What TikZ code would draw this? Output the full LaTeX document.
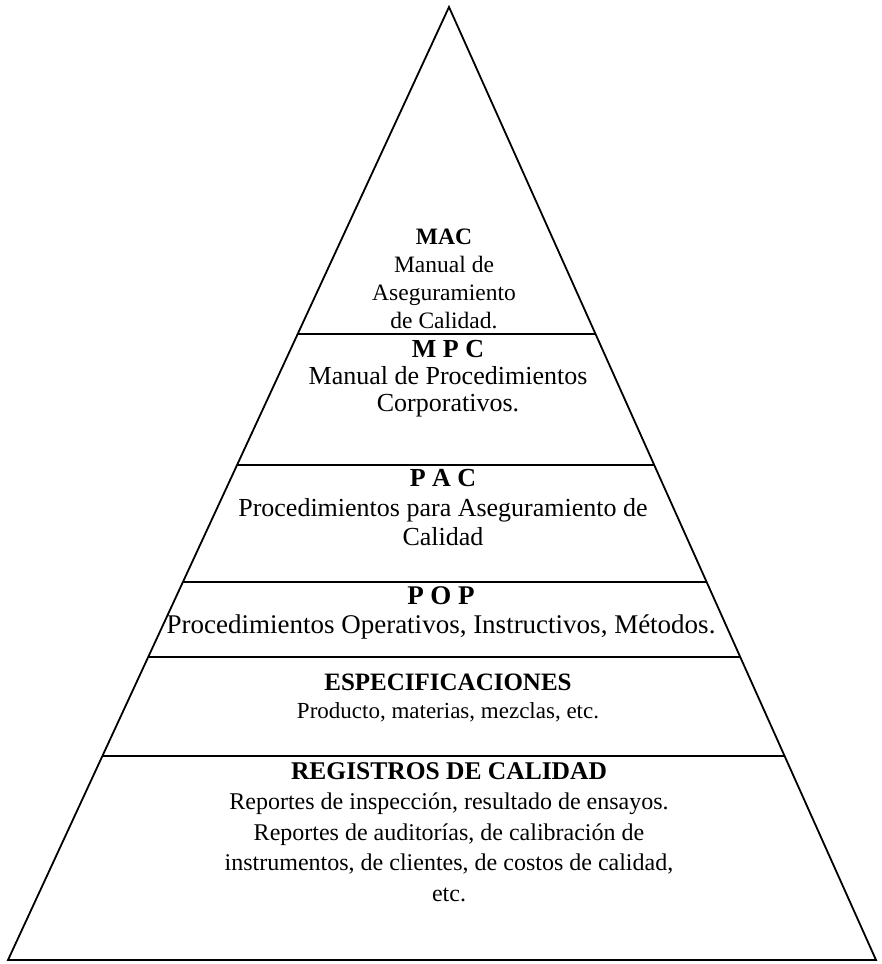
\documentclass[tikz,border=0pt]{standalone}
\usepackage{fontspec}
\setmainfont{Liberation Serif}
\usetikzlibrary{calc}

\newcommand{\fsz}[2]{\fontsize{#1}{#2}\selectfont}
\tikzset{tier/.style={align=center, inner sep=0pt}}

\begin{document}
\begin{tikzpicture}[x=1pt, y=-1pt, line width=1.8pt]
  \useasboundingbox (0,0) rectangle (881,964);
  \coordinate (apex) at (449,7);
  \coordinate (bl) at (8,960);
  \coordinate (br) at (876,960);
  \draw[line join=miter] (bl) -- (apex) -- (br) -- cycle;

  % levels of the pyramid
  \foreach \t in {0.343,0.4806,0.6034,0.682,0.786}
    \draw ($(apex)!\t!(bl)$) -- ($(apex)!\t!(br)$);

  \node[tier, font=\fsz{23.5}{28}] (mac) at (444,279) {\textbf{MAC}\\Manual de\\Aseguramiento\\de Calidad.};
  \node[tier, font=\fsz{26}{27}] (mpc) at (448,379) {\textbf{M P C}\\Manual de Procedimientos\\Corporativos.};
  \node[tier, font=\fsz{26}{29.5}] (pac) at (443,508) {\textbf{P A C}\\Procedimientos para Aseguramiento de\\Calidad};
  \node[tier, font=\fsz{27}{29}] (pop) at (441,613) {\textbf{P O P}\\Procedimientos Operativos, Instructivos, Métodos.};
  \node[tier, font=\fsz{23}{28}] (esp) at (448,698) {{\fsz{25}{28}\textbf{ESPECIFICACIONES}}\\Producto, materias, mezclas, etc.};
  \node[tier, font=\fsz{24}{30.5}] (reg) at (449,832) {{\fsz{25.5}{30.5}\textbf{REGISTROS DE CALIDAD}}\\Reportes de inspección, resultado de ensayos.\\Reportes de auditorías, de calibración de\\instrumentos, de clientes, de costos de calidad,\\etc.};
\end{tikzpicture}
\end{document}
